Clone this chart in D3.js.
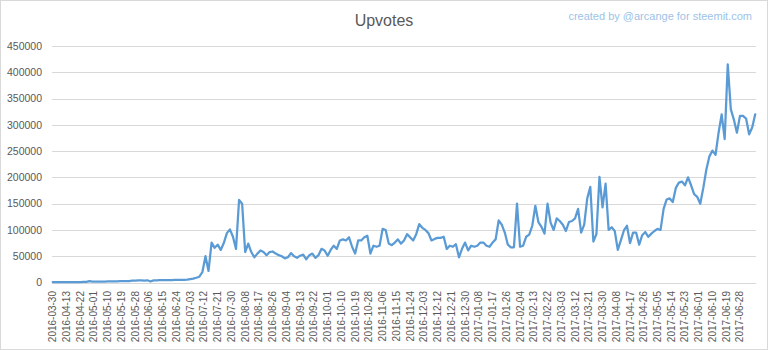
<!DOCTYPE html>
<html>
<head>
<meta charset="utf-8">
<script src="https://cdn.jsdelivr.net/npm/d3@7"></script>
<style>
  body { margin: 0; background: #fff; }
  svg { display: block; font-family: "Liberation Sans", Arial, sans-serif; }
</style>
</head>
<body>
<svg id="chart" width="768" height="350"></svg>
<script>
// Daily upvotes, one reading every 2nd category (category index = 2 * position)
var catStep = 2;
var upvotes = [
  500, 500, 600, 600, 700, 700, 800, 800, 900, 900,
  1000, 1200, 2500, 1500, 1600, 1700, 1800, 1900, 2000, 2100,
  2200, 2300, 2400, 2500, 2600, 2800, 3500, 3800, 4000, 4000,
  3800, 4200, 2000, 4000, 4200, 4300, 4400, 4500, 4600, 4700,
  4800, 4900, 5000, 5200, 5500, 6500, 7500, 9000, 11000, 20000,
  50000, 22000, 76000, 66000, 72000, 62000, 75000, 94000, 101000, 87000,
  64000, 157000, 150000, 58000, 74000, 58000, 48000, 55000, 61000, 58000,
  52000, 58000, 59000, 55000, 52000, 50000, 46000, 48000, 56000, 50000,
  47000, 51000, 53000, 44000, 52000, 55000, 47000, 52000, 64000, 61000,
  51000, 62000, 70000, 64000, 80000, 82000, 80000, 86000, 68000, 55000,
  80000, 80000, 86000, 89000, 55000, 70000, 68000, 70000, 102000, 100000,
  74000, 71000, 76000, 82000, 74000, 80000, 92000, 86000, 80000, 92000,
  111000, 104000, 100000, 94000, 80000, 83000, 85000, 85000, 87000, 64000,
  70000, 68000, 73000, 48000, 64000, 76000, 61000, 70000, 68000, 70000,
  76000, 76000, 70000, 68000, 76000, 82000, 118000, 110000, 95000, 72000,
  67000, 67000, 150000, 68000, 70000, 87000, 91000, 108000, 146000, 115000,
  106000, 93000, 150000, 114000, 100000, 122000, 117000, 110000, 98000, 115000,
  117000, 122000, 140000, 95000, 110000, 160000, 182000, 78000, 92000, 201000,
  143000, 188000, 100000, 105000, 98000, 62000, 80000, 99000, 108000, 75000,
  95000, 95000, 72000, 90000, 96000, 87000, 93000, 98000, 102000, 100000,
  140000, 158000, 160000, 153000, 180000, 190000, 192000, 185000, 200000, 185000,
  168000, 163000, 150000, 180000, 215000, 240000, 251000, 243000, 285000, 320000,
  273000, 415000, 330000, 310000, 285000, 317000, 317000, 312000, 282000, 295000,
  320000
];

// category axis labels, one every 9 categories
var labelStep = 9;
var dateLabels = [
  "2016-03-30", "2016-04-13", "2016-04-22", "2016-05-01", "2016-05-10", "2016-05-19",
  "2016-05-28", "2016-06-06", "2016-06-15", "2016-06-24", "2016-07-03", "2016-07-12",
  "2016-07-21", "2016-07-30", "2016-08-08", "2016-08-17", "2016-08-26", "2016-09-04",
  "2016-09-13", "2016-09-22", "2016-10-01", "2016-10-10", "2016-10-19", "2016-10-28",
  "2016-11-06", "2016-11-15", "2016-11-24", "2016-12-03", "2016-12-12", "2016-12-21",
  "2016-12-30", "2017-01-08", "2017-01-17", "2017-01-26", "2017-02-04", "2017-02-13",
  "2017-02-22", "2017-03-03", "2017-03-12", "2017-03-21", "2017-03-30", "2017-04-08",
  "2017-04-17", "2017-04-26", "2017-05-05", "2017-05-14", "2017-05-23", "2017-06-01",
  "2017-06-10", "2017-06-19", "2017-06-28"
];

var yTicks = [0, 50000, 100000, 150000, 200000, 250000, 300000, 350000, 400000, 450000];

var svg = d3.select("#chart");

// outer chart border
svg.append("rect")
   .attr("x", 0.5).attr("y", 0.5)
   .attr("width", 767).attr("height", 349)
   .attr("fill", "#fff")
   .attr("stroke", "#d9d9d9");

var x = d3.scaleLinear().domain([-0.5, 460.5]).range([52, 756]);
var y = d3.scaleLinear().domain([0, 450000]).range([282.5, 46]);

// gridlines
svg.append("g").selectAll("line")
   .data(yTicks).enter().append("line")
   .attr("x1", 52).attr("x2", 756)
   .attr("y1", function(d){ return Math.round(y(d)) + 0.5; })
   .attr("y2", function(d){ return Math.round(y(d)) + 0.5; })
   .attr("stroke", "#d9d9d9")
   .attr("stroke-width", 1);

// y labels
svg.append("g").selectAll("text")
   .data(yTicks).enter().append("text")
   .attr("x", 42)
   .attr("y", function(d){ return y(d); })
   .attr("dy", "0.35em")
   .attr("text-anchor", "end")
   .attr("font-size", "10.5px")
   .attr("fill", "#595959")
   .text(function(d){ return d; });

// x labels (rotated)
svg.append("g").selectAll("text")
   .data(dateLabels).enter().append("text")
   .attr("transform", function(d, i){ return "translate(" + x(i * labelStep) + ",291) rotate(-90)"; })
   .attr("dy", "0.35em")
   .attr("text-anchor", "end")
   .attr("font-size", "10px")
   .attr("fill", "#595959")
   .text(function(d){ return d; });

// the line
var line = d3.line()
   .x(function(d, i){ return x(i * catStep); })
   .y(function(d){ return y(d); });

svg.append("path")
   .datum(upvotes)
   .attr("d", line)
   .attr("fill", "none")
   .attr("stroke", "#5b9bd5")
   .attr("stroke-width", 2.25)
   .attr("stroke-linejoin", "round")
   .attr("stroke-linecap", "round");

// title + credit
svg.append("text")
   .attr("x", 384).attr("y", 26)
   .attr("text-anchor", "middle")
   .attr("font-size", "16px")
   .attr("fill", "#595959")
   .text("Upvotes");

svg.append("text")
   .attr("x", 752).attr("y", 20)
   .attr("text-anchor", "end")
   .attr("font-size", "11px")
   .attr("fill", "#9dc3e6")
   .text("created by @arcange for steemit.com");
</script>
</body>
</html>
